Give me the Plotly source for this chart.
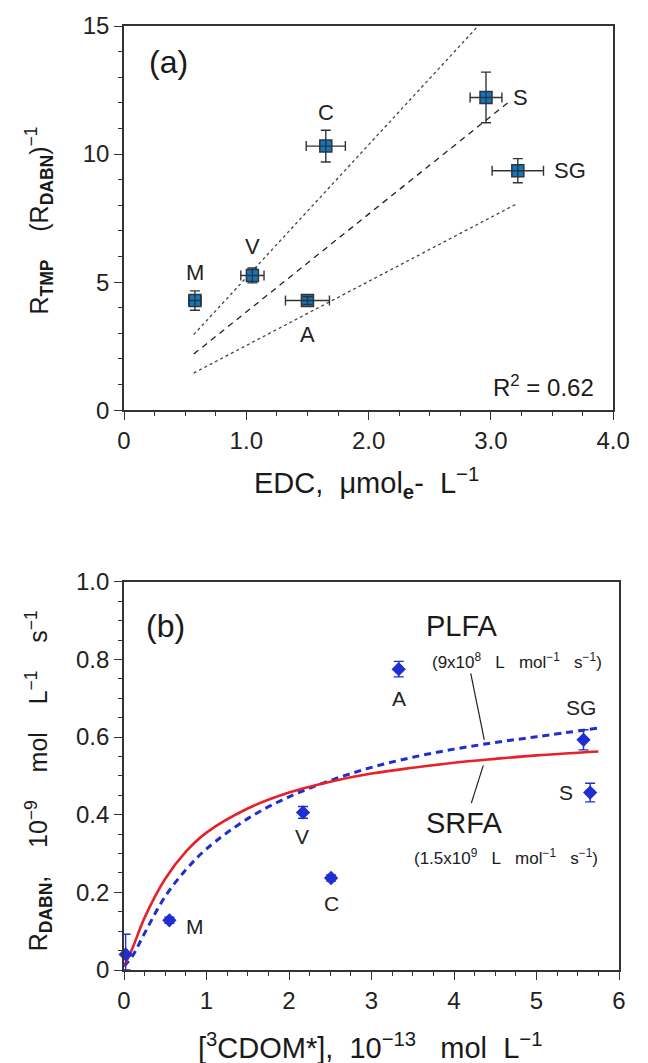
import plotly.graph_objects as go

# ---------------- Panel (a) data ----------------
a_labels = ["M", "V", "A", "C", "S", "SG"]
a_edc = [0.58, 1.05, 1.50, 1.65, 2.96, 3.22]
a_edc_err = [0.05, 0.095, 0.18, 0.16, 0.13, 0.21]
a_rinv = [4.28, 5.26, 4.28, 10.31, 12.21, 9.35]
a_rinv_err = [0.38, 0.29, 0.15, 0.62, 0.99, 0.47]

# regression line and confidence band
fit_x = [0.57, 3.15]
fit_y = [2.19, 12.05]
band_up_x = [0.57, 2.895]
band_up_y = [2.95, 15.0]
band_lo_x = [0.57, 3.22]
band_lo_y = [1.45, 8.08]
r2_text = "R<sup>2</sup> = 0.62"

# ---------------- Panel (b) data ----------------
b_labels = ["", "M", "V", "C", "A", "SG", "S"]
b_cdom = [0.02, 0.55, 2.17, 2.51, 3.33, 5.57, 5.65]
b_rate = [0.040, 0.128, 0.406, 0.237, 0.775, 0.593, 0.457]
b_err_plus = [0.052, 0.008, 0.015, 0.008, 0.020, 0.026, 0.024]
b_err_minus = [0.040, 0.008, 0.015, 0.008, 0.020, 0.026, 0.024]

srfa_x = [0.0, 0.1, 0.25, 0.5, 0.75, 1.0, 1.5, 2.0, 2.5, 3.0, 3.5, 4.0, 4.5, 5.0, 5.75]
srfa_y = [0.01, 0.055, 0.135, 0.235, 0.305, 0.354, 0.416, 0.457, 0.485, 0.506, 0.521, 0.534, 0.544, 0.553, 0.563]
plfa_x = [0.0, 0.1, 0.25, 0.5, 0.75, 1.0, 1.5, 2.0, 2.5, 3.0, 3.5, 4.0, 4.5, 5.0, 5.75]
plfa_y = [0.01, 0.035, 0.095, 0.190, 0.258, 0.312, 0.390, 0.446, 0.488, 0.522, 0.548, 0.569, 0.586, 0.601, 0.623]

# ---------------- layout geometry (pixels) ----------------
W, H = 648, 1063
ML, MR, MT, MB = 124, 12, 24, 93
PW = W - ML - MR
PH = H - MT - MB


def px(xp):
    return (xp - ML) / PW


def py(yp):
    return (H - MB - yp) / PH


TICK_FONT = dict(family="Liberation Sans Narrow, Arial Narrow, Liberation Sans, Arial", size=24, color="#222")
TEXT_FONT = "Liberation Sans, Arial, Helvetica, sans-serif"
NARROW = "Liberation Sans Narrow, Arial Narrow, Liberation Sans, Arial"
AX = "#333"
BLUE_A = "#0b78c8"
BLUE_B = "#1f2ed0"
NB = "\u00a0"

fig = go.Figure()

# ----- panel (a) -----
fig.add_trace(go.Scatter(x=band_up_x, y=band_up_y, mode="lines", xaxis="x", yaxis="y",
                         line=dict(color="#444", width=1.3, dash="dot"), showlegend=False))
fig.add_trace(go.Scatter(x=band_lo_x, y=band_lo_y, mode="lines", xaxis="x", yaxis="y",
                         line=dict(color="#444", width=1.3, dash="dot"), showlegend=False))
fig.add_trace(go.Scatter(x=fit_x, y=fit_y, mode="lines", xaxis="x", yaxis="y",
                         line=dict(color="#222", width=1.3, dash="6px,5px"), showlegend=False))
fig.add_trace(go.Scatter(x=a_edc, y=a_rinv, mode="markers", xaxis="x", yaxis="y",
                         marker=dict(symbol="square", size=12, color=BLUE_A,
                                     line=dict(color="#333", width=1.5)),
                         showlegend=False))
# error bars drawn on top of the squares
fig.add_trace(go.Scatter(x=a_edc, y=a_rinv, mode="markers", xaxis="x", yaxis="y",
                         marker=dict(size=1, opacity=0),
                         error_x=dict(type="data", array=a_edc_err, color="#333", thickness=1.4, width=5),
                         error_y=dict(type="data", array=a_rinv_err, color="#333", thickness=1.4, width=5),
                         showlegend=False))

# ----- panel (b) -----
fig.add_trace(go.Scatter(x=plfa_x, y=plfa_y, mode="lines", xaxis="x2", yaxis="y2",
                         line=dict(color=BLUE_B, width=3, dash="7px,5px", shape="spline"), showlegend=False))
fig.add_trace(go.Scatter(x=srfa_x, y=srfa_y, mode="lines", xaxis="x2", yaxis="y2",
                         line=dict(color="#e8202a", width=2.6, shape="spline"), showlegend=False))
fig.add_trace(go.Scatter(x=b_cdom, y=b_rate, mode="markers", xaxis="x2", yaxis="y2",
                         marker=dict(symbol="diamond", size=11, color=BLUE_B, line=dict(width=0)),
                         error_y=dict(type="data", array=b_err_plus, arrayminus=b_err_minus,
                                      color=BLUE_B, thickness=1.4, width=5),
                         cliponaxis=False, showlegend=False))


def axis_common(rng, tickvals, ticktext, minor_dtick, domain, anchor):
    return dict(range=rng, domain=domain, anchor=anchor, tickmode="array", tickvals=tickvals,
                ticktext=ticktext, ticks="outside", ticklen=8, tickwidth=1.3, tickcolor=AX,
                showline=True, linecolor=AX, linewidth=1.6, mirror=True, showgrid=False,
                zeroline=False, tickfont=TICK_FONT,
                minor=dict(dtick=minor_dtick, tick0=0, ticks="outside", ticklen=4,
                           tickwidth=1.2, tickcolor=AX, showgrid=False))


ya_dom = [py(409), 1.0]
yb_dom = [0.0, py(581)]
xa_dom = [0.0, px(630)]

fig.update_layout(
    width=W, height=H, margin=dict(l=ML, r=MR, t=MT, b=MB),
    paper_bgcolor="white", plot_bgcolor="white",
    xaxis=axis_common([0, 4], [0, 1, 2, 3, 4], ["0", "1.0", "2.0", "3.0", "4.0"], 0.25, xa_dom, "y"),
    yaxis=axis_common([0, 15], [0, 5, 10, 15], ["0", "5", "10", "15"], 1, ya_dom, "x"),
    xaxis2=axis_common([0, 6], [0, 1, 2, 3, 4, 5, 6], ["0", "1", "2", "3", "4", "5", "6"], 0.25, [0, 1], "y2"),
    yaxis2=axis_common([0, 1], [0, 0.2, 0.4, 0.6, 0.8, 1.0], ["0", "0.2", "0.4", "0.6", "0.8", "1.0"], 0.05, yb_dom, "x2"),
)

ann = []
# point labels, panel (a)
a_off = {"M": (0, 28), "V": (0, 29), "A": (0, -34), "C": (0, 34), "S": (34, 0), "SG": (52, 0)}
for lab, xv, yv in zip(a_labels, a_edc, a_rinv):
    dx, dy = a_off[lab]
    ann.append(dict(x=xv, y=yv, xref="x", yref="y", text=lab, showarrow=False,
                    xanchor="center", yanchor="middle",
                    xshift=dx, yshift=dy, font=dict(family=TEXT_FONT, size=22, color="#222")))
# point labels, panel (b)
b_off = {"M": (26, -6), "V": (-1, -24), "C": (0, -25), "A": (0, -29), "SG": (-3, 32), "S": (-24, 0)}
for lab, xv, yv in zip(b_labels, b_cdom, b_rate):
    if not lab:
        continue
    dx, dy = b_off[lab]
    ann.append(dict(x=xv, y=yv, xref="x2", yref="y2", text=lab, showarrow=False,
                    xanchor="center", yanchor="middle",
                    xshift=dx, yshift=dy, font=dict(family=TEXT_FONT, size=21, color="#222")))


def pann(xp, yp, text, size, family=TEXT_FONT, xanchor="center", angle=0):
    ann.append(dict(x=px(xp), y=py(yp), xref="paper", yref="paper", text=text, showarrow=False,
                    xanchor=xanchor, yanchor="middle", textangle=angle,
                    font=dict(family=family, size=size, color="#1a1a1a")))


# panel letters
pann(170, 60, "(a)", 32)
pann(167, 625, "(b)", 32)
# R^2
pann(612, 385, r2_text, 24, family=NARROW, xanchor="right")

# PLFA / SRFA labels
pann(474, 625, "PLFA", 29)
pann(530, 660, "(9x10<sup>8</sup>" + NB * 3 + "L" + NB * 3 + "mol<sup>−1</sup>" + NB * 3 + "s<sup>−1</sup>)", 17, family=NARROW)
pann(476, 823, "SRFA", 29)
pann(519, 857, "(1.5x10<sup>9</sup>" + NB * 3 + "L" + NB * 3 + "mol<sup>−1</sup>" + NB * 3 + "s<sup>−1</sup>)", 17, family=NARROW)

# axis titles
pann(36, 219, "R<sub><b>TMP</b></sub>" + NB * 4 + "(R<sub><b>DABN</b></sub>)<sup>−1</sup>", 25, angle=-90)
pann(375, 482, "EDC," + NB * 2 + "μmol<sub><b>e</b></sub>-" + NB * 2 + "L<sup>−1</sup>", 29)
pann(36, 780, "R<sub><b>DABN</b></sub>," + NB * 4 + "10<sup>−9</sup>" + NB * 4 + "mol" + NB * 4
     + "L<sup>−1</sup>" + NB * 4 + "s<sup>−1</sup>", 25, angle=-90)
pann(378, 1046, "[<sup>3</sup>CDOM*]," + NB * 2 + "10<sup>−13</sup>" + NB * 3 + "mol" + NB * 2 + "L<sup>−1</sup>", 29)

fig.update_layout(annotations=ann)

# leader lines for the curve labels
fig.add_shape(type="line", xref="x2", yref="y2", x0=4.203, y0=0.764, x1=4.367, y1=0.593,
              line=dict(color="#222", width=1.2))
fig.add_shape(type="line", xref="x2", yref="y2", x0=4.355, y0=0.527, x1=4.21, y1=0.43,
              line=dict(color="#222", width=1.2))

fig.write_html("out.html", config={"displayModeBar": False},
               post_script="document.body.style.margin='0';")
